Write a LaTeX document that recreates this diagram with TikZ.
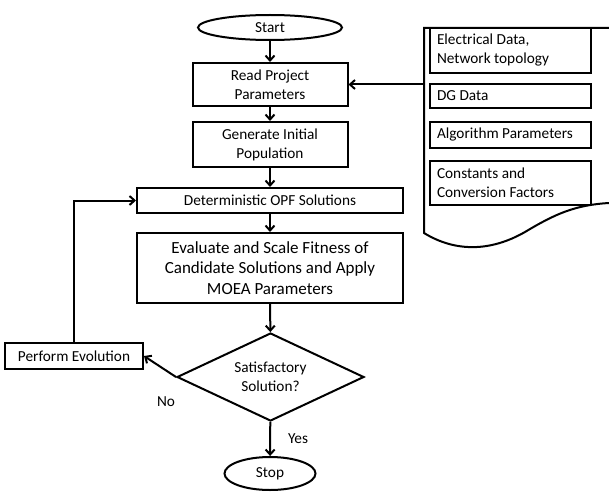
\documentclass[tikz,border=0pt]{standalone}
\usepackage{fontspec}
\setmainfont{Carlito}
\usepackage{tikz}
\usetikzlibrary{arrows.meta, shapes.geometric, positioning}
\tikzset{
     %set default line width to 2pt
    every picture/.style={line width=2pt},
    >={Straight Barb[length=5pt,width=9pt]},
    plain-text/.style={
        font=\fontsize{15.3}{19}\selectfont,
        execute at begin node={\spaceskip=0pt \xspaceskip=0pt \relax},
    },
    term-node/.style={
        draw,
        ellipse,
        inner sep=0pt,
        plain-text,
    },
    proc-box/.style={
        draw,
        align=center,
        inner sep=0pt,
        plain-text,
    },
    data-box/.style={
        draw,
        align=left,
        text width=147pt,
        inner xsep=7pt,
        inner ysep=0pt,
        plain-text,
    },
    decision/.style={
        draw,
        diamond,
        aspect=2.1,
        align=center,
        inner sep=0pt,
        minimum width=187pt,
        minimum height=88pt,
        plain-text,
    },
    label-text/.style={
        inner sep=0pt,
        plain-text,
    }
}

\begin{document}
\begin{tikzpicture}[x=1pt,y=-1pt]
\useasboundingbox (0,0) rectangle (609,492);

%Shape: Ellipse [id:start]
\node (start) at (270,27.5) [term-node, minimum width=144pt, minimum height=25pt] {Start};
%Shape: Rectangle [id:read]
\node (read) at (270,84.5) [proc-box, minimum width=155pt, minimum height=43pt] {Read Project\\Parameters};
%Shape: Rectangle [id:gen]
\node (gen) at (270,144.5) [proc-box, minimum width=155pt, minimum height=45pt] {Generate Initial\\Population};
%Shape: Rectangle [id:opf]
\node (opf) at (270,200.5) [proc-box, minimum width=266pt, minimum height=25pt] {Deterministic OPF Solutions};
%Shape: Rectangle [id:eval]
\node (eval) at (270,268) [proc-box, minimum width=266pt, minimum height=70pt, font=\fontsize{17}{20.5}\selectfont] {Evaluate and Scale Fitness of\\Candidate Solutions and Apply\\MOEA Parameters};
%Shape: Diamond [id:sat]
\node (sat) at (270.5,377) [decision] {Satisfactory\\Solution?};
%Shape: Ellipse [id:stop]
\node (stop) at (270,473.5) [term-node, minimum width=91pt, minimum height=33pt] {Stop};
%Shape: Rectangle [id:evol]
\node (evol) at (74,356) [proc-box, minimum width=138pt, minimum height=26pt] {Perform Evolution};

%Shape: Document [id:doc]
\draw (609,28) -- (424,28) -- (424,233) .. controls (455,252) and (490,252) .. (525,232) .. controls (555,214) and (575,205) .. (609,203);
\coordinate (docin) at (424,84.5);
%Shape: Rectangle [id:elec]
\node (elec) at (510.5,50.5) [data-box, minimum height=45pt] {Electrical Data,\\Network topology};
%Shape: Rectangle [id:dg]
\node (dg) at (510.5,96) [data-box, minimum height=24pt] {DG Data};
%Shape: Rectangle [id:alg]
\node (alg) at (510.5,135) [data-box, minimum height=26pt] {Algorithm Parameters};
%Shape: Rectangle [id:const]
\node (const) at (510.5,183) [data-box, minimum height=44pt] {Constants and\\Conversion Factors};

% Arrows
\draw [->] (start) -- (read);
\draw [->] (read) -- (gen);
\draw [->] (gen) -- (opf);
\draw [->] (opf) -- (eval);
\draw [->] (eval) -- (sat);
\draw [->] (sat) -- (stop);
\draw [->] (sat.west) -- (evol.east);
\draw [->] (evol.north) |- (opf.west);
\draw [->] (docin) -- (read.east);

% Text Node
\node (no) at (166,402) [label-text] {No};
% Text Node
\node (yes) at (298,439) [label-text] {Yes};
\end{tikzpicture}
\end{document}
